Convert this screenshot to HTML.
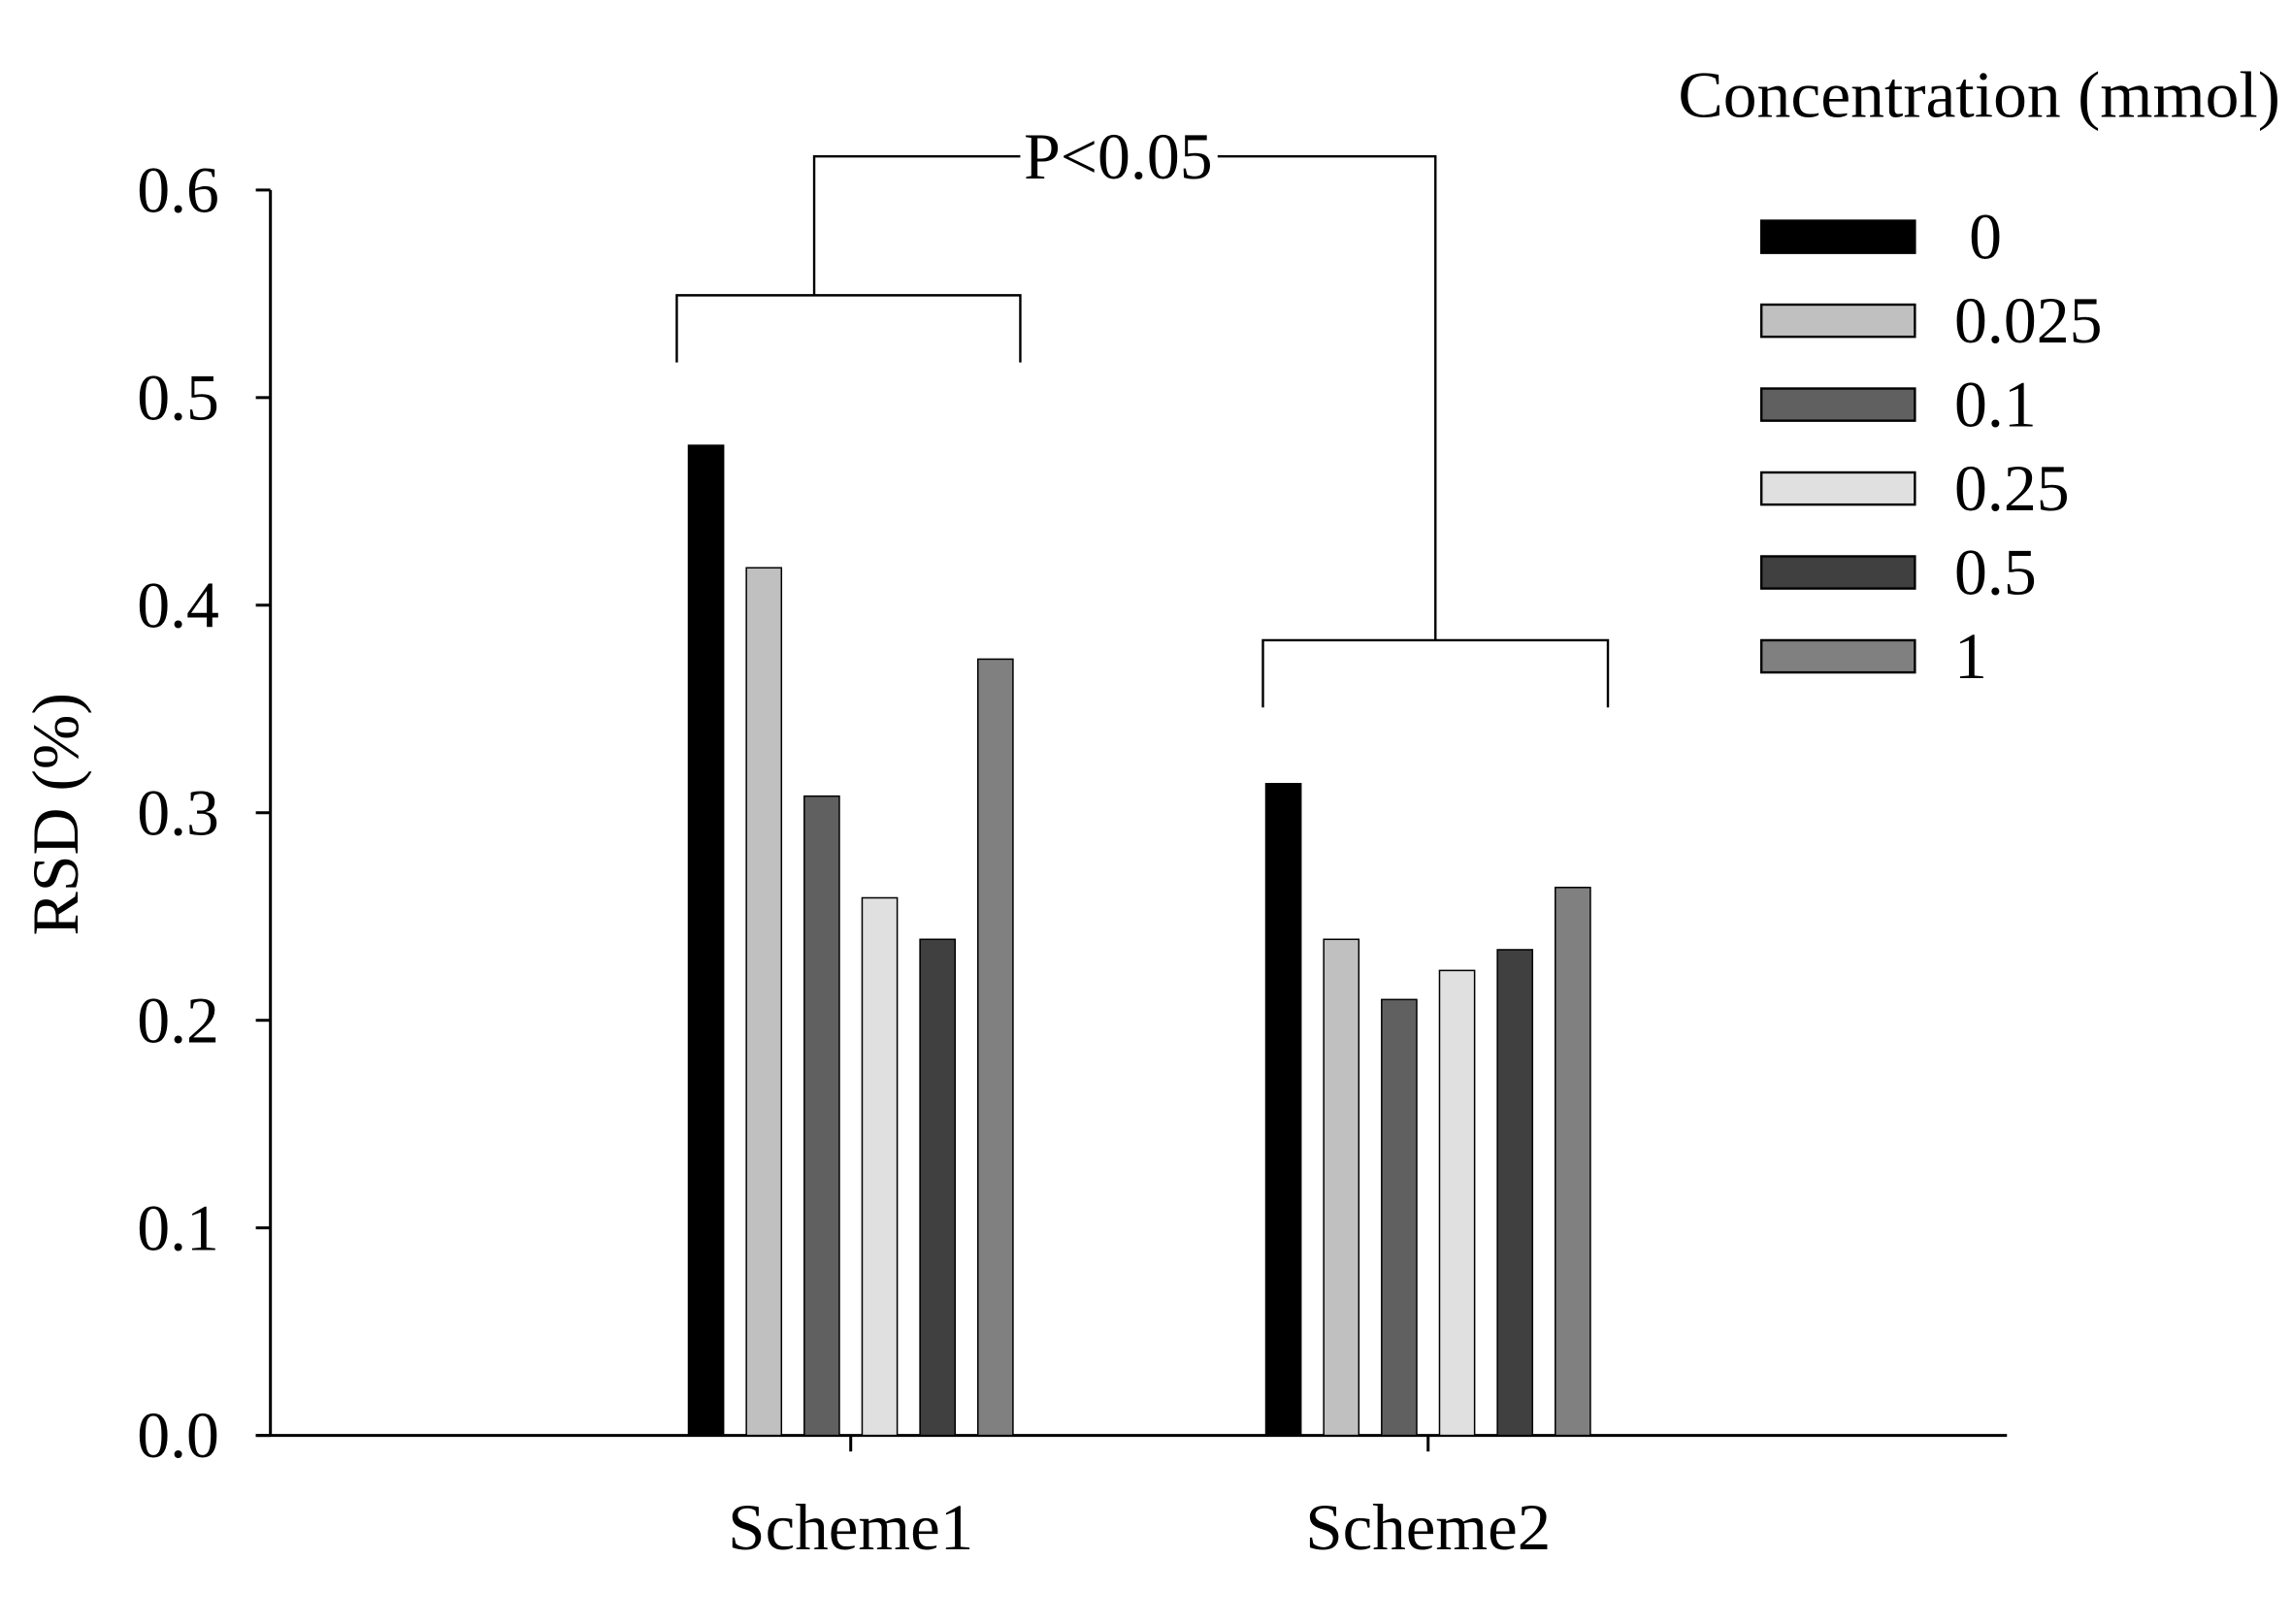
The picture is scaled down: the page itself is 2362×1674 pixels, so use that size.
<!DOCTYPE html>
<html><head><meta charset="utf-8"><style>html,body{margin:0;padding:0;background:#fff}svg{display:block}</style></head>
<body>
<svg width="2362" height="1674" viewBox="0 0 1568 1111" preserveAspectRatio="none" xmlns="http://www.w3.org/2000/svg" font-family="'Liberation Serif', serif">
<g id="axes"></g>
<g id="bars"></g>
<g fill="none" stroke="#000" stroke-width="1.6">
<polyline points="463,248 463,202 698,202 698,248"/>
<polyline points="864,484 864,438 1100,438 1100,484"/>
<polyline points="557,202 557,107 698,107"/>
<polyline points="833,107 982,107 982,438"/>
</g>
<text x="765" y="122" font-size="45" text-anchor="middle">P&lt;0.05</text>
<text x="1148" y="80" font-size="45" textLength="412" lengthAdjust="spacingAndGlyphs">Concentration (mmol)</text>
<g id="legend"></g>
<text transform="translate(53,557) rotate(-90)" font-size="45" text-anchor="middle">RSD (%)</text>
<script>
const categories = ["Scheme1", "Scheme2"];
const concentrations = ["0", "0.025", "0.1", "0.25", "0.5", "1"];
const scheme1Values = [0.477, 0.418, 0.308, 0.259, 0.239, 0.374];
const scheme2Values = [0.314, 0.239, 0.210, 0.224, 0.234, 0.264];
const yTicks = [0, 0.1, 0.2, 0.3, 0.4, 0.5, 0.6];
const yTickLabels = ["0.0", "0.1", "0.2", "0.3", "0.4", "0.5", "0.6"];
const colors = ["#000000", "#c0c0c0", "#606060", "#e0e0e0", "#404040", "#808080"];
const NS = "http://www.w3.org/2000/svg";
function y(v) { return 982 - v / 0.6 * 852; }
function groupCenter(i) { return 582 + i * 395; }
function barX(i, j) { return groupCenter(i) - 111 + j * 39.6; }
function mk(tag, attrs, parent) { const e = document.createElementNS(NS, tag); for (const k in attrs) e.setAttribute(k, attrs[k]); parent.appendChild(e); return e; }
const axes = document.getElementById("axes");
let l = mk("line", {x1:185, y1:130, x2:185, y2:982, stroke:"#000", "stroke-width":2}, axes);


l = mk("line", {x1:175, y1:982, x2:1373, y2:982, stroke:"#000", "stroke-width":2}, axes);


yTicks.forEach((t, k) => {
  const tk = mk("line", {x1:175, y1:y(t), x2:185, y2:y(t), stroke:"#000", "stroke-width":2}, axes);
  
  
  const tx = mk("text", {x:150, y:y(t) + 15, "font-size":45, "text-anchor":"end"}, axes);
  tx.textContent = yTickLabels[k];
  
  
});
categories.forEach((c, i) => {
  const tk = mk("line", {x1:groupCenter(i), y1:982, x2:groupCenter(i), y2:993, stroke:"#000", "stroke-width":2}, axes);
  
  
  const tx = mk("text", {x:groupCenter(i), y:1060, "font-size":45, "text-anchor":"middle", textLength:168, lengthAdjust:"spacingAndGlyphs"}, axes);
  tx.textContent = c;
  
  
});
const bars = document.getElementById("bars");
[scheme1Values, scheme2Values].forEach((vals, i) => {
  vals.forEach((v, j) => {
    const r = mk("rect", {x:barX(i, j), y:y(v), width:24, height:982 - y(v), fill:colors[j], stroke:"#000", "stroke-width":1}, bars);
    
    
  });
});
const legend = document.getElementById("legend");
concentrations.forEach((c, j) => {
  const cy = 162 + j * 57.4;
  const r = mk("rect", {x:1205, y:cy - 11, width:105, height:22, fill:colors[j], stroke:"#000", "stroke-width":1.6}, legend);
  
  
  const tx = mk("text", {x: j === 0 ? 1347 : 1337, y:cy + 15, "font-size":45}, legend);
  tx.textContent = c;
  
  
});
</script>
</svg>
</body></html>
